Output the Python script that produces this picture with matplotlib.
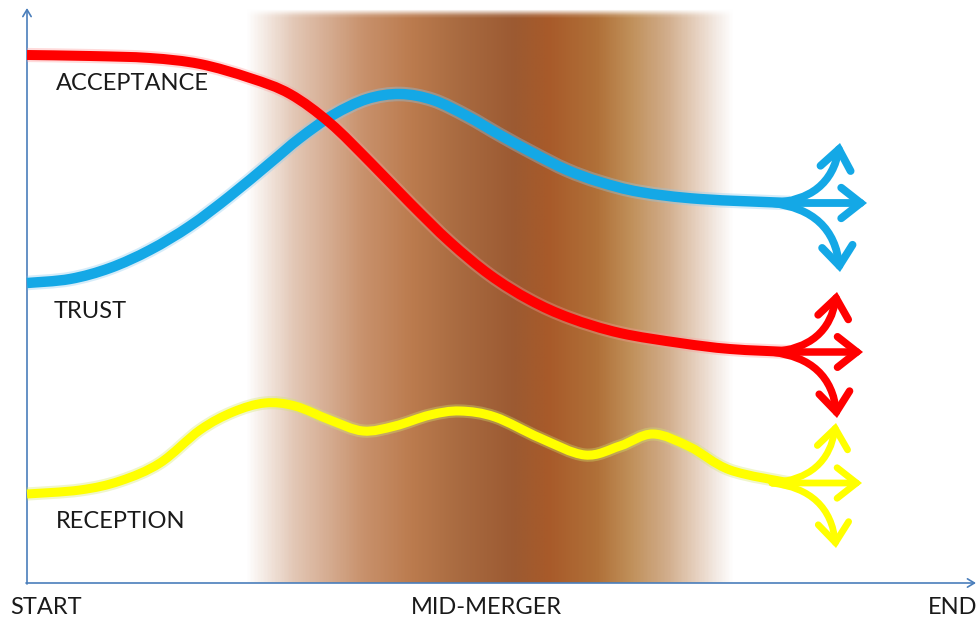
import matplotlib
matplotlib.use("Agg")
import matplotlib.pyplot as plt
import numpy as np
from matplotlib.path import Path
from matplotlib.patches import PathPatch, FancyArrowPatch
from matplotlib.colors import LinearSegmentedColormap

# curve points (pixel coords, y down)
acceptance_x = [27, 90, 150, 200, 250, 290, 330, 370, 410, 450, 490, 530, 570, 620, 680, 730, 790]
acceptance_y = [55, 56, 58, 64, 78, 94, 123, 162, 203, 242, 275, 300, 318, 333, 343, 349, 352]

trust_x = [27, 70, 110, 150, 190, 230, 270, 300, 333, 367, 400, 433, 467, 500, 533, 567, 600, 640, 700, 790]
trust_y = [283, 279, 268, 250, 226, 196, 163, 138, 115, 99, 94, 100, 116, 135, 153, 170, 182, 192, 199, 203]

reception_x = [27, 80, 120, 160, 200, 233, 265, 295, 330, 363, 395, 430, 460, 495, 540, 585, 620, 653, 690, 730, 790]
reception_y = [494, 490, 481, 463, 430, 412, 403, 406, 420, 431, 426, 415, 411, 417, 438, 455, 446, 434, 447, 470, 483]

# arrow tips of the three-way split at the end of each curve: up, straight, down
acceptance_tips = [(837, 292), (863, 352), (837, 418)]
trust_tips = [(840, 143), (867, 203), (840, 272)]
reception_tips = [(836, 423), (862, 483), (836, 548)]

labels = ["ACCEPTANCE", "TRUST", "RECEPTION"]
label_pos = [(56, 83), (54, 311), (56, 522)]
axis_labels = ["START", "MID-MERGER", "END"]
axis_label_x = [10, 411, 928]

band_stops = [0.0, 0.1, 0.24, 0.34, 0.44, 0.55, 0.62, 0.72, 0.79, 0.86, 0.93, 0.97, 1.0]
band_colors = ["#ffffff", "#e2c6b4", "#c8916c", "#bb7b4e", "#a86a40", "#9c5a32",
               "#a85a2a", "#b07038", "#c0905a", "#d0ab88", "#e8d4c4", "#f5ede8", "#ffffff"]

fig = plt.figure(figsize=(9.76, 6.19), dpi=100)
ax = fig.add_axes([0, 0, 1, 1])
ax.set_xlim(0, 976)
ax.set_ylim(619, 0)
ax.axis("off")

# brown merger band
cmap = LinearSegmentedColormap.from_list("band", list(zip(band_stops, band_colors)))
grad = cmap(np.linspace(0, 1, 400))[None, :, :].repeat(200, axis=0)
fade = np.clip(np.linspace(0, 1, 200) / 0.012, 0, 1)
grad[:, :, 3] = fade[:, None]
ax.imshow(grad, extent=[245, 735, 583, 8], aspect="auto", zorder=1, interpolation="bilinear")

# axes arrows
axis_col = "#4a7ebb"
ax.annotate("", xy=(27, 8), xytext=(27, 584),
            arrowprops=dict(arrowstyle="->,head_length=0.5,head_width=0.3", color=axis_col, lw=1.2, shrinkA=0, shrinkB=0), zorder=2)
ax.annotate("", xy=(976, 583), xytext=(26, 583),
            arrowprops=dict(arrowstyle="->,head_length=0.5,head_width=0.3", color=axis_col, lw=1.2, shrinkA=0, shrinkB=0), zorder=2)


def smooth_path(xs, ys):
    p = np.column_stack([xs, ys]).astype(float)
    verts = [p[0]]
    codes = [Path.MOVETO]
    n = len(p)
    for i in range(n - 1):
        p0 = p[i - 1] if i > 0 else p[i]
        p3 = p[i + 2] if i + 2 < n else p[i + 1]
        c1 = p[i] + (p[i + 1] - p0) / 6
        c2 = p[i + 1] - (p3 - p[i]) / 6
        verts += [c1, c2, p[i + 1]]
        codes += [Path.CURVE4] * 3
    return Path(verts, codes)


def draw_series(xs, ys, tips, col, glow, lw):
    path = smooth_path(xs, ys)
    ax.add_patch(PathPatch(path, fill=False, ec=glow, lw=lw + 3, alpha=0.35, capstyle="butt", zorder=3))
    ax.add_patch(PathPatch(path, fill=False, ec=col, lw=lw, capstyle="butt", zorder=4))
    start = (xs[-1] - 18, ys[-1])
    rads = [0.4, 0.0, -0.4]
    for (tx, ty), rad in zip(tips, rads):
        arr = FancyArrowPatch(start, (tx, ty), connectionstyle=f"arc3,rad={rad}",
                              arrowstyle="->,head_length=0.7,head_width=0.55", mutation_scale=20,
                              color=col, lw=lw * 0.75, shrinkA=0, shrinkB=0,
                              capstyle="round", joinstyle="miter", zorder=4)
        ax.add_patch(arr)


draw_series(trust_x, trust_y, trust_tips, "#14a8e6", "#8ccaf0", 7.5)
draw_series(acceptance_x, acceptance_y, acceptance_tips, "#ff0000", "#ff9a9a", 7.2)
draw_series(reception_x, reception_y, reception_tips, "#ffff00", "#d4e86a", 6.5)

font = "Lato"
for lab, (lx, ly) in zip(labels, label_pos):
    ax.text(lx, ly, lab, fontsize=17, family=font, color="#1a1a1a", va="center", ha="left", zorder=5)
for lab, lx in zip(axis_labels, axis_label_x):
    ax.text(lx, 607, lab, fontsize=17, family=font, color="#1a1a1a", va="center", ha="left", zorder=5)

fig.savefig("out.png", dpi=100)
